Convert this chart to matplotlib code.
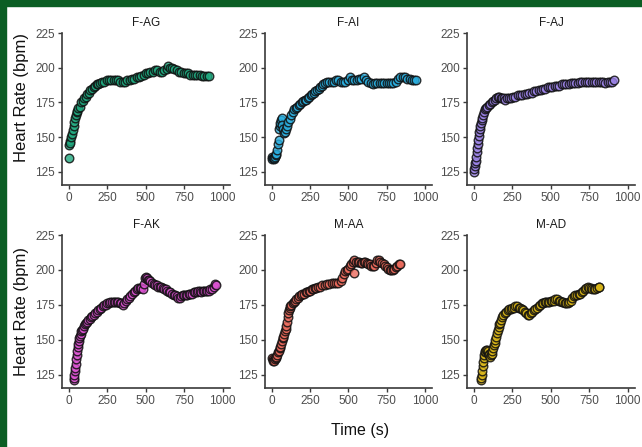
import matplotlib
matplotlib.use("Agg")
import matplotlib.pyplot as plt
from matplotlib.colors import to_rgba
from matplotlib.patches import Rectangle

plt.rcParams["font.family"] = ["Liberation Sans", "DejaVu Sans"]

# ---- data: (time in s, heart rate in bpm) ----
PANELS = ["F-AG", "F-AI", "F-AJ", "F-AK", "M-AA", "M-AD"]
COLORS = ["#1fa87e", "#2aaedf", "#9b82e6", "#dc52d2", "#ec6a5c", "#d9b516"]

fag = [(0, 135), (3, 144), (6, 147), (10, 146), (15, 150), (20, 152), (25, 155),
       (30, 158), (35, 161), (40, 164), (45, 166), (50, 168), (55, 169), (60, 171),
       (70, 172), (80, 175), (90, 176), (100, 178), (110, 179), (120, 181), (130, 182),
       (140, 184), (150, 185), (160, 186), (170, 187), (180, 188), (190, 188), (200, 189),
       (215, 190), (230, 190), (245, 191), (260, 191), (275, 191), (290, 191), (305, 191),
       (320, 191), (335, 190), (350, 190), (365, 190), (380, 191), (395, 191), (410, 192),
       (425, 192), (440, 193), (455, 193), (470, 194), (485, 195), (500, 196), (515, 196),
       (530, 197), (545, 197), (560, 198), (575, 198), (590, 197), (605, 197), (620, 198),
       (635, 199), (645, 201), (655, 200), (670, 200), (685, 199), (700, 198), (715, 197),
       (730, 197), (745, 196), (760, 196), (775, 196), (790, 195), (805, 195), (820, 195),
       (835, 195), (850, 195), (865, 194), (880, 194), (895, 194), (910, 194)]

fai = [(0, 136), (4, 134), (8, 135), (12, 134), (16, 135), (20, 136), (25, 137),
       (30, 138), (35, 141), (40, 145), (44, 148), (48, 156), (52, 158), (56, 160),
       (60, 162), (64, 164), (68, 159), (72, 156), (78, 153), (85, 154), (92, 156),
       (100, 158), (108, 161), (116, 163), (125, 166), (135, 168), (145, 170), (155, 171),
       (165, 172), (175, 173), (185, 174), (195, 175), (205, 176), (215, 177), (225, 177),
       (235, 178), (245, 179), (255, 180), (265, 181), (275, 182), (285, 183), (295, 184),
       (305, 185), (315, 186), (325, 187), (335, 188), (345, 189), (360, 190), (375, 190),
       (390, 190), (405, 190), (420, 191), (435, 191), (450, 190), (465, 190), (480, 190),
       (495, 191), (510, 193), (525, 191), (540, 191), (555, 191), (570, 192), (585, 192),
       (600, 193), (615, 191), (630, 190), (645, 189), (660, 188), (675, 189), (690, 189),
       (705, 189), (720, 189), (735, 189), (750, 189), (765, 189), (780, 189), (795, 189),
       (810, 190), (825, 192), (840, 193), (855, 193), (870, 193), (885, 192), (900, 192),
       (915, 191), (930, 191), (945, 191)]

faj = [(0, 125), (3, 127), (6, 129), (9, 131), (12, 133), (15, 136), (18, 139),
       (21, 142), (24, 145), (27, 148), (30, 151), (34, 154), (38, 156), (42, 158),
       (46, 160), (50, 162), (55, 164), (60, 166), (65, 168), (70, 170), (78, 171),
       (86, 172), (95, 173), (105, 174), (115, 175), (125, 176), (135, 177), (145, 178),
       (155, 179), (165, 179), (175, 178), (185, 178), (195, 178), (205, 177), (215, 178),
       (225, 178), (240, 178), (255, 179), (270, 179), (285, 180), (300, 180), (315, 180),
       (330, 181), (345, 181), (360, 182), (375, 182), (390, 183), (405, 183), (420, 184),
       (435, 184), (450, 185), (465, 185), (480, 186), (495, 186), (510, 186), (525, 187),
       (540, 187), (555, 187), (570, 188), (585, 188), (600, 188), (615, 188), (630, 189),
       (645, 189), (660, 189), (675, 189), (690, 190), (705, 190), (720, 190), (735, 190),
       (750, 190), (765, 190), (780, 190), (795, 190), (810, 190), (825, 190), (840, 190),
       (855, 189), (870, 190), (885, 190), (900, 190), (910, 191)]

fak = [(30, 121), (33, 123), (36, 125), (39, 128), (42, 130), (45, 133), (48, 136),
       (51, 139), (54, 142), (57, 145), (60, 147), (64, 149), (68, 151), (72, 153),
       (76, 154), (80, 156), (85, 157), (90, 158), (96, 160), (102, 161), (110, 162),
       (118, 163), (126, 164), (134, 165), (142, 166), (150, 167), (160, 168), (170, 169),
       (180, 170), (190, 171), (200, 172), (210, 173), (220, 174), (230, 175), (240, 175),
       (250, 176), (260, 176), (270, 177), (280, 177), (290, 177), (300, 177), (310, 177),
       (320, 177), (330, 176), (340, 176), (350, 175), (360, 176), (370, 178), (380, 179),
       (390, 180), (400, 181), (410, 183), (420, 184), (430, 185), (440, 186), (450, 187),
       (460, 187), (470, 187), (480, 186), (486, 190), (492, 194), (498, 195), (505, 194),
       (512, 193), (520, 193), (530, 192), (540, 191), (550, 190), (560, 189), (570, 189),
       (580, 188), (590, 188), (600, 188), (610, 187), (620, 186), (630, 186), (640, 185),
       (650, 184), (660, 184), (670, 183), (680, 182), (690, 182), (700, 181), (710, 180),
       (720, 180), (730, 181), (740, 182), (750, 182), (760, 182), (770, 182), (780, 183),
       (790, 183), (800, 183), (810, 184), (820, 184), (830, 184), (840, 185), (850, 185),
       (860, 184), (870, 185), (880, 185), (890, 185), (900, 185), (910, 185), (920, 186),
       (930, 186), (940, 188), (950, 190), (955, 189)]

maa = [(0, 137), (5, 136), (10, 135), (15, 135), (20, 136), (25, 137), (30, 138),
       (35, 139), (40, 141), (45, 142), (50, 144), (55, 145), (60, 147), (65, 149),
       (70, 151), (75, 152), (80, 154), (85, 156), (90, 158), (95, 160), (100, 163),
       (104, 166), (108, 169), (112, 171), (116, 173), (120, 174), (128, 175), (136, 176),
       (144, 177), (152, 178), (160, 179), (170, 180), (180, 181), (190, 182), (200, 183),
       (210, 183), (220, 184), (230, 184), (240, 185), (250, 185), (260, 186), (270, 186),
       (280, 187), (290, 187), (300, 188), (315, 188), (330, 189), (345, 189), (360, 190),
       (375, 190), (390, 191), (405, 191), (420, 191), (435, 191), (450, 192), (460, 194),
       (470, 197), (480, 199), (490, 200), (500, 201), (510, 203), (520, 204), (530, 206),
       (535, 198), (540, 207), (550, 206), (560, 206), (570, 206), (580, 205), (590, 205),
       (600, 206), (610, 206), (620, 205), (630, 204), (640, 204), (650, 203), (660, 203),
       (670, 203), (680, 205), (690, 207), (700, 207), (710, 206), (720, 205), (730, 204),
       (740, 203), (750, 202), (760, 201), (770, 200), (780, 200), (790, 200), (800, 201),
       (810, 202), (820, 203), (830, 204), (835, 204)]

mad = [(45, 121), (48, 123), (51, 125), (54, 128), (57, 131), (60, 134), (63, 137),
       (66, 139), (70, 141), (75, 142), (80, 143), (85, 143), (90, 142), (95, 140),
       (100, 139), (105, 138), (110, 139), (115, 140), (120, 142), (125, 144), (130, 146),
       (135, 148), (140, 150), (145, 152), (150, 155), (155, 157), (160, 159), (165, 161),
       (170, 162), (177, 164), (185, 166), (192, 168), (200, 169), (210, 170), (220, 171),
       (230, 172), (240, 172), (250, 173), (260, 173), (270, 174), (280, 174), (290, 173),
       (300, 173), (310, 172), (320, 171), (330, 170), (340, 169), (350, 168), (360, 168),
       (370, 169), (380, 170), (390, 171), (400, 172), (410, 173), (420, 174), (430, 175),
       (440, 176), (450, 176), (460, 177), (470, 177), (480, 177), (490, 177), (500, 178),
       (510, 178), (520, 178), (530, 179), (540, 179), (550, 178), (560, 178), (570, 177),
       (580, 177), (590, 176), (600, 176), (610, 176), (620, 177), (630, 178), (640, 180),
       (650, 181), (660, 182), (670, 182), (680, 183), (690, 183), (700, 184), (710, 185),
       (720, 186), (730, 187), (740, 188), (750, 187), (760, 187), (770, 186), (780, 186),
       (790, 186), (800, 187), (810, 188), (815, 188)]

SERIES = [fag, fai, faj, fak, maa, mad]

W, H = 642, 447
fig = plt.figure(figsize=(W / 100, H / 100), dpi=100)

# dark green frame on top and left edges
fig.patches.append(Rectangle((0, 1 - 6 / H), 1, 6 / H, transform=fig.transFigure,
                             color="#0b5e24", zorder=0))
fig.patches.append(Rectangle((0, 0), 6 / W, 1, transform=fig.transFigure,
                             color="#0b5e24", zorder=0))

col_x = [(62, 230), (265, 432), (467, 635)]
row_y = [(33, 185), (235, 388)]

for i, name in enumerate(PANELS):
    r, c = divmod(i, 3)
    x0, x1 = col_x[c]
    y0, y1 = row_y[r]
    ax = fig.add_axes([x0 / W, 1 - y1 / H, (x1 - x0) / W, (y1 - y0) / H])
    t = [p[0] for p in SERIES[i]]
    hr = [p[1] for p in SERIES[i]]
    ax.scatter(t, hr, s=38, facecolor=to_rgba(COLORS[i], 0.8),
               edgecolor=to_rgba("#101010", 0.85), linewidth=1.0, zorder=3)
    ax.set_xlim(-45, 1047)
    ax.set_ylim(115.5, 225)
    ax.set_xticks([0, 250, 500, 750, 1000])
    ax.set_yticks([125, 150, 175, 200, 225])
    for s in ("top", "right"):
        ax.spines[s].set_visible(False)
    for s in ("left", "bottom"):
        ax.spines[s].set_color("#3a3a3a")
        ax.spines[s].set_linewidth(1.2)
    ax.tick_params(colors="#3a3a3a", labelcolor="#4d4d4d", labelsize=8.5,
                   length=3, width=1.0, pad=2)
    ax.set_title(name, fontsize=8.5, color="#1a1a1a", pad=5)

fig.text(22 / W, 1 - 97 / H, "Heart Rate (bpm)", rotation=90, ha="center",
         va="center", fontsize=12, color="#111111")
fig.text(22 / W, 1 - 311 / H, "Heart Rate (bpm)", rotation=90, ha="center",
         va="center", fontsize=12, color="#111111")
fig.text(360 / W, 1 - 430 / H, "Time (s)", ha="center", va="center",
         fontsize=11.5, color="#111111")

fig.savefig("out.png", dpi=100)
